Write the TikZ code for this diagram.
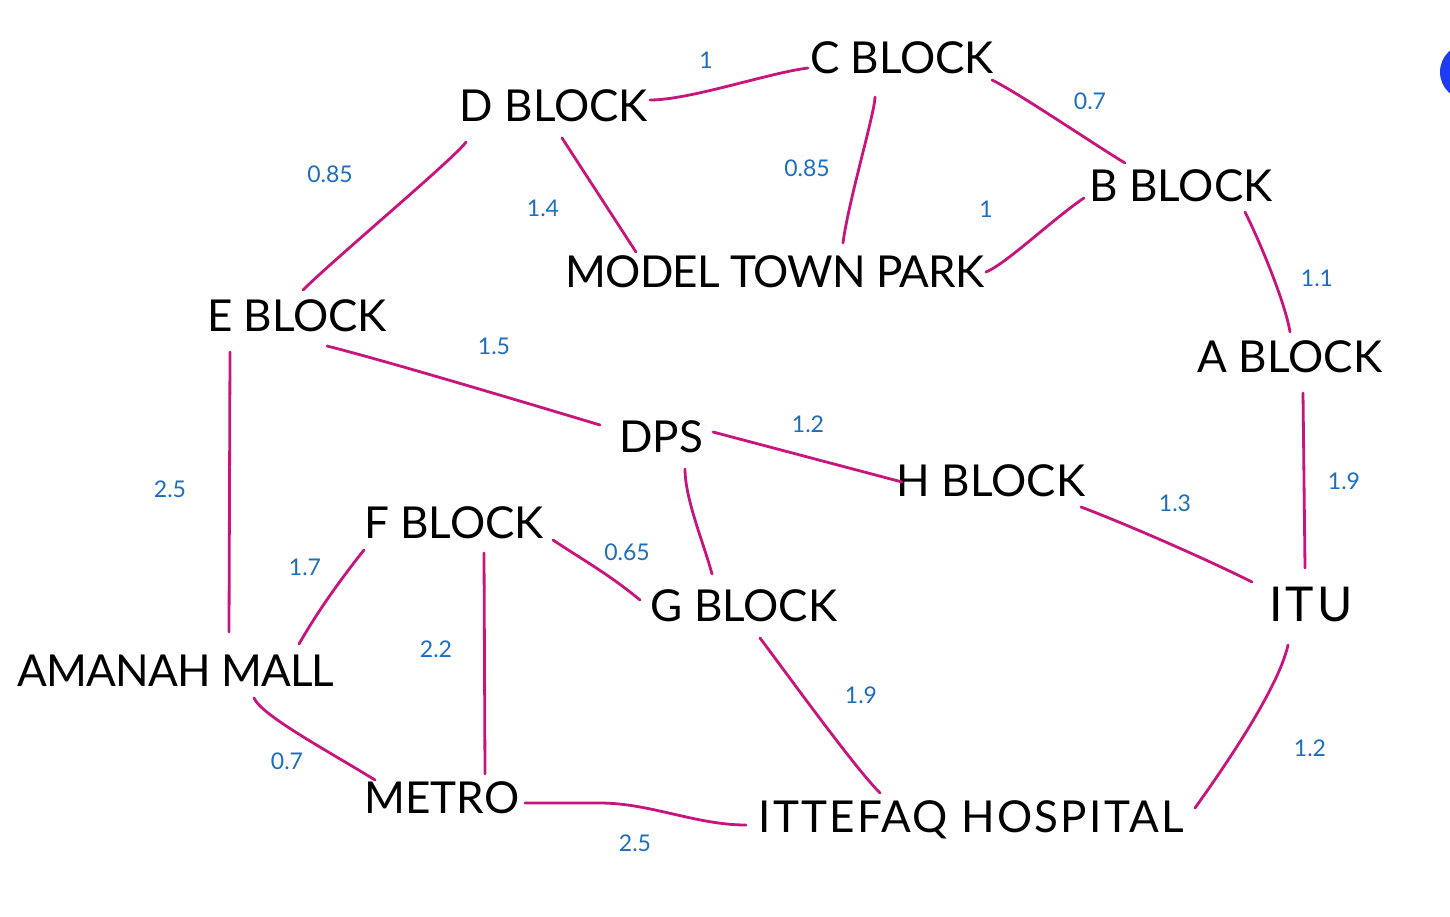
\documentclass[tikz,border=0pt]{standalone}
\usepackage{fontspec}
\setmainfont{Lato}
\definecolor{edgepink}{RGB}{200,20,125}
\definecolor{wblue}{RGB}{30,110,190}
\definecolor{dotblue}{RGB}{30,60,240}
\begin{document}
\begin{tikzpicture}[x=1pt,y=-1pt,
  place/.style={font=\fontsize{44}{48}\selectfont, text=black, inner sep=0pt},
  wt/.style={font=\fontsize{23}{26}\selectfont, text=wblue, inner sep=0pt},
  link/.style={draw=edgepink, line width=2.8pt, line cap=round, line join=round}]
\useasboundingbox (0,0) rectangle (1450,916);
\fill[white] (0,0) rectangle (1450,916);
\begin{scope}
\clip (0,0) rectangle (1450,916);
\fill[dotblue] (1468,72) circle (28);
\end{scope}

% places
\node[place] (c) at (902,58) {C BLOCK};
\node[place] (d) at (554,106) {D BLOCK};
\node[place] (b) at (1181,186) {B BLOCK};
\node[place] (mtp) at (775,272) {\addfontfeatures{LetterSpace=-2}MODEL TOWN PARK};
\node[place] (e) at (297,316) {E BLOCK};
\node[place] (a) at (1290,357) {A BLOCK};
\node[place] (dps) at (661,437) {DPS};
\node[place] (h) at (991,481) {H BLOCK};
\node[place] (f) at (454,523) {F BLOCK};
\node[place] (g) at (744,606) {G BLOCK};
\node[place, font=\fontsize{48}{52}\selectfont] (itu) at (1311,604) {\addfontfeatures{LetterSpace=6}ITU};
\node[place] (am) at (176,671) {\addfontfeatures{LetterSpace=-2}AMANAH MALL};
\node[place] (metro) at (442,798) {METRO};
\node[place] (hosp) at (971,820) {\addfontfeatures{LetterSpace=5}ITTEFAQ HOSPITAL};

% connectors
\draw[link] ([shift={(96,-6)}]d.center) .. controls +(40,0) and +(-40,5) .. ([shift={(-94,10)}]c.center);
\draw[link] ([shift={(90,22)}]c.center) .. controls +(25,12) and +(-30,-18) .. ([shift={(-56,-23)}]b.center);
\draw[link] ([shift={(-27,39)}]c.center) .. controls +(0,15) and +(5,-40) .. ([shift={(68,-29)}]mtp.center);
\draw[link] ([shift={(8,32)}]d.center) -- ([shift={(-139,-20)}]mtp.center);
\draw[link] ([shift={(-88,36)}]d.center) .. controls +(-10,15) and +(30,-30) .. ([shift={(6,-26)}]e.center);
\draw[link] ([shift={(211,0)}]mtp.center) .. controls +(20,-8) and +(-30,20) .. ([shift={(-97,12)}]b.center);
\draw[link] ([shift={(64,26)}]b.center) .. controls +(15,30) and +(-5,-30) .. ([shift={(0,-25)}]a.center);
\draw[link] ([shift={(13,36)}]a.center) -- ([shift={(-6,-36)}]itu.center);
\draw[link] ([shift={(30,30)}]e.center) .. controls +(60,15) and +(-50,-15) .. ([shift={(-61,-12)}]dps.center);
\draw[link] ([shift={(52,-5)}]dps.center) -- ([shift={(-89,1)}]h.center);
\draw[link] ([shift={(90,26)}]h.center) .. controls +(40,15) and +(-50,-25) .. ([shift={(-59,-22)}]itu.center);
\draw[link] ([shift={(-67,36)}]e.center) -- ([shift={(53,-39)}]am.center);
\draw[link] ([shift={(24,32)}]dps.center) .. controls +(0,30) and +(-8,-30) .. ([shift={(-32,-32)}]g.center);
\draw[link] ([shift={(-90,27)}]f.center) .. controls +(-20,25) and +(20,-35) .. ([shift={(123,-27)}]am.center);
\draw[link] ([shift={(99,17)}]f.center) .. controls +(30,20) and +(-30,-25) .. ([shift={(-104,-6)}]g.center);
\draw[link] ([shift={(30,30)}]f.center) -- ([shift={(43,-24)}]metro.center);
\draw[link] ([shift={(78,27)}]am.center) .. controls +(8,18) and +(-45,-28) .. ([shift={(-67,-18)}]metro.center);
\draw[link] ([shift={(16,32)}]g.center) .. controls +(30,40) and +(-25,-25) .. ([shift={(-91,-27)}]hosp.center);
\draw[link] ([shift={(83,5)}]metro.center) -- ++(75,0) .. controls +(50,0) and +(-50,0) .. ([shift={(-225,5)}]hosp.center);
\draw[link] ([shift={(-23,41)}]itu.center) .. controls +(-10,45) and +(25,-35) .. ([shift={(224,-12)}]hosp.center);

% weights
\node[wt] (w1) at (706,60) {1};
\node[wt] (w2) at (1090,101) {0.7};
\node[wt] (w3) at (807,168) {0.85};
\node[wt] (w4) at (543,208) {1.4};
\node[wt] (w5) at (330,174) {0.85};
\node[wt] (w6) at (986,209) {1};
\node[wt] (w7) at (1317,278) {1.1};
\node[wt] (w8) at (1344,481) {1.9};
\node[wt] (w9) at (494,346) {1.5};
\node[wt] (w10) at (808,424) {1.2};
\node[wt] (w11) at (1175,503) {1.3};
\node[wt] (w12) at (170,489) {2.5};
\node[wt] (w14) at (305,567) {1.7};
\node[wt] (w15) at (627,552) {0.65};
\node[wt] (w16) at (436,649) {2.2};
\node[wt] (w17) at (287,761) {0.7};
\node[wt] (w18) at (861,695) {1.9};
\node[wt] (w19) at (635,843) {2.5};
\node[wt] (w20) at (1310,748) {1.2};
\end{tikzpicture}
\end{document}
